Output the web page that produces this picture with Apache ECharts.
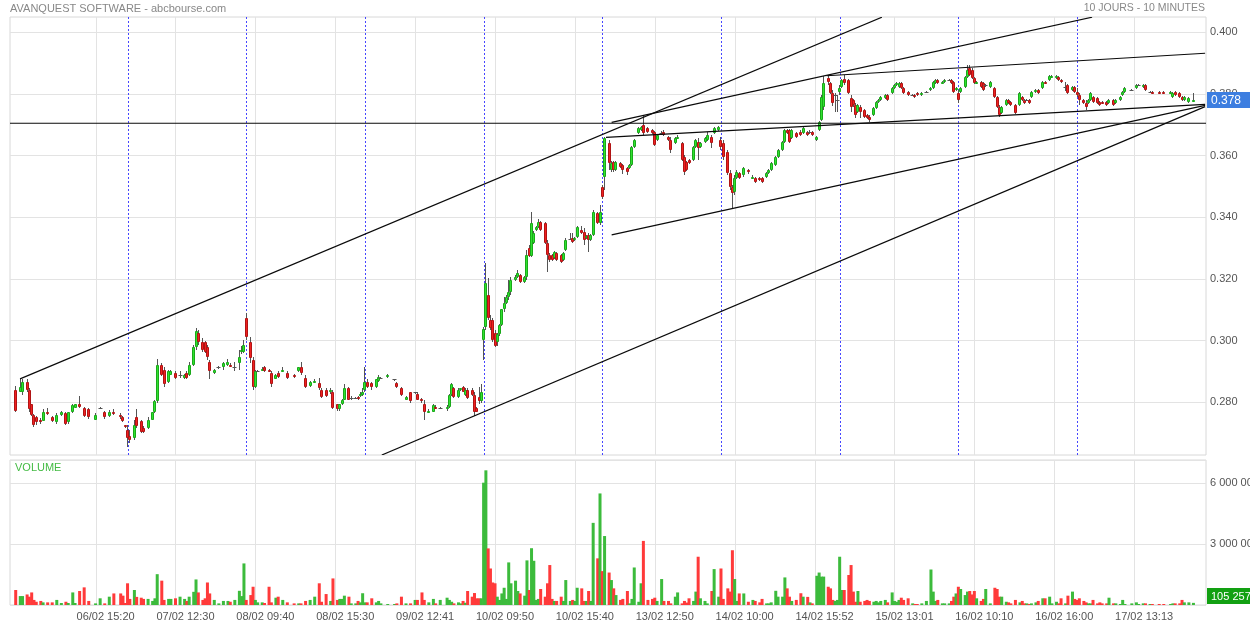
<!DOCTYPE html>
<html><head><meta charset="utf-8">
<script src="https://cdn.jsdelivr.net/npm/echarts@6/dist/echarts.min.js"></script>
<style>html,body{margin:0;padding:0;background:#fff}#c{width:1250px;height:625px}</style>
</head><body><div id="c"></div>
<script>
// ---------- DATA ----------
const days = ['06/02','07/02','08/02','09/02','10/02','13/02','14/02','15/02','16/02','17/02'];
// each candle: [slot (10-min bar from 09:00), open, close, low, high, volume]
const d0602 = [
[3,.2841,.2773,.2767,.2854,740000],[5,.2832,.2851,.2832,.2874,440000],[6,.2835,.2867,.2825,.2877,440000],
[8,.2867,.2841,.2835,.2874,520000],[9,.2841,.2777,.2770,.2848,410000],[10,.2793,.2760,.2757,.2796,620000],
[11,.2760,.2728,.2721,.2763,250000],[12,.2751,.2735,.2728,.2754,160000],[14,.2744,.2735,.2731,.2748,200000],
[15,.2738,.2770,.2738,.2777,130000],[17,.2770,.2764,.2760,.2780,130000],[19,.2751,.2738,.2735,.2754,130000],
[21,.2735,.2760,.2731,.2764,250000],[23,.2760,.2770,.2757,.2773,100000],[25,.2764,.2731,.2728,.2767,160000],
[26,.2735,.2767,.2731,.2770,100000],[28,.2767,.2790,.2764,.2796,620000],[29,.2783,.2793,.2780,.2796,100000],
[31,.2793,.2786,.2783,.2819,690000],[33,.2783,.2754,.2751,.2786,870000],[35,.2777,.2751,.2747,.2780,200000],
[38,.2744,.2760,.2741,.2764,80000],[40,.2783,.2783,.2780,.2786,330000],[42,.2770,.2751,.2747,.2773,80000],
[44,.2754,.2770,.2751,.2776,410000],[46,.2770,.2764,.2760,.2777,570000],[49,.2760,.2751,.2747,.2764,570000],
[50,.2751,.2738,.2735,.2754,460000],[51,.2725,.2722,.2718,.2728,100000]];
const d0702 = [
[0,.2711,.2685,.2656,.2727,1070000],[1,.2692,.2679,.2669,.2711,300000],[3,.2685,.2728,.2679,.2744,740000],
[4,.2751,.2722,.2718,.2777,400000],[6,.2738,.2705,.2702,.2744,360000],[7,.2718,.2705,.2699,.2722,300000],
[9,.2718,.2744,.2712,.2751,300000],[11,.2744,.2767,.2741,.2770,200000],[12,.2767,.2803,.2764,.2806,330000],
[13,.2803,.2922,.2799,.2942,1520000],[15,.2922,.2890,.2884,.2929,1200000],[16,.2906,.2858,.2851,.2913,250000],
[18,.2867,.2900,.2861,.2906,300000],[19,.2890,.2900,.2887,.2906,300000],[21,.2896,.2880,.2874,.2903,330000],
[23,.2890,.2890,.2880,.2900,410000],[25,.2880,.2890,.2877,.2893,300000],[26,.2896,.2880,.2874,.2900,200000],
[27,.2890,.2922,.2884,.2932,410000],[29,.2922,.2978,.2919,.2987,650000],[30,.2978,.3030,.2971,.3042,1260000],
[31,.3026,.2997,.2987,.3036,620000],[33,.2997,.2971,.2964,.3010,250000],[34,.2994,.2964,.2961,.3000,330000],
[35,.2978,.2948,.2938,.2987,1110000],[36,.2932,.2900,.2874,.2938,570000],[38,.2896,.2906,.2893,.2909,250000],
[40,.2913,.2916,.2909,.2919,80000],[42,.2913,.2929,.2906,.2932,200000],[44,.2922,.2932,.2919,.2942,200000],
[45,.2922,.2916,.2913,.2926,160000],[47,.2916,.2916,.2900,.2932,250000],[49,.2929,.2948,.2906,.2971,700000],
[50,.2964,.2971,.2958,.2981,440000],[51,.2964,.2987,.2961,.3003,2050000]];
const d0802 = [
[0,.3074,.3013,.3003,.3091,250000],[2,.2997,.2945,.2929,.3013,490000],[3,.2938,.2851,.2841,.2948,900000],
[4,.2851,.2900,.2848,.2906,250000],[5,.2900,.2903,.2897,.2906,130000],[7,.2906,.2909,.2903,.2913,130000],
[8,.2913,.2900,.2897,.2919,100000],[10,.2906,.2900,.2897,.2909,900000],[11,.2896,.2858,.2851,.2903,130000],
[13,.2877,.2890,.2874,.2893,360000],[14,.2896,.2883,.2880,.2900,410000],[16,.2900,.2906,.2897,.2913,250000],
[18,.2896,.2880,.2877,.2900,130000],[21,.2890,.2883,.2880,.2893,80000],[23,.2900,.2913,.2897,.2916,80000],
[24,.2913,.2896,.2890,.2932,80000],[26,.2880,.2851,.2848,.2890,200000],[28,.2854,.2867,.2851,.2870,250000],
[30,.2867,.2870,.2864,.2874,410000],[32,.2864,.2848,.2841,.2880,1070000],[33,.2841,.2818,.2815,.2848,160000],
[35,.2841,.2822,.2818,.2848,540000],[37,.2832,.2841,.2828,.2845,200000],[38,.2832,.2783,.2777,.2841,1310000],
[40,.2793,.2777,.2773,.2796,250000],[41,.2777,.2793,.2773,.2796,300000],[42,.2793,.2809,.2790,.2812,300000],
[43,.2809,.2848,.2806,.2858,460000],[45,.2848,.2809,.2806,.2851,410000],[46,.2815,.2815,.2809,.2822,80000],
[48,.2815,.2815,.2812,.2818,80000],[49,.2818,.2812,.2809,.2822,200000],[50,.2822,.2828,.2818,.2832,130000],
[51,.2825,.2835,.2822,.2848,580000]];
const d0902 = [
[0,.2841,.2867,.2835,.2916,130000],[1,.2867,.2851,.2848,.2874,130000],[3,.2864,.2851,.2841,.2867,330000],
[5,.2851,.2874,.2848,.2877,130000],[6,.2870,.2883,.2867,.2890,200000],[7,.2880,.2880,.2874,.2883,80000],
[10,.2883,.2890,.2880,.2893,50000],[13,.2874,.2874,.2870,.2877,50000],[14,.2864,.2851,.2848,.2867,80000],
[16,.2848,.2825,.2822,.2851,410000],[18,.2809,.2818,.2806,.2822,80000],[20,.2832,.2803,.2799,.2835,80000],
[22,.2832,.2832,.2828,.2835,250000],[23,.2828,.2809,.2806,.2832,250000],[25,.2812,.2803,.2799,.2815,620000],
[26,.2793,.2770,.2744,.2809,250000],[28,.2767,.2773,.2764,.2777,130000],[30,.2770,.2790,.2767,.2793,300000],
[31,.2786,.2780,.2777,.2790,80000],[33,.2783,.2783,.2780,.2786,250000],[36,.2777,.2786,.2773,.2790,360000],
[37,.2786,.2825,.2783,.2828,250000],[38,.2825,.2858,.2822,.2861,160000],[39,.2848,.2818,.2815,.2851,80000],
[41,.2818,.2841,.2815,.2845,130000],[42,.2841,.2845,.2838,.2848,80000],[43,.2851,.2835,.2832,.2854,200000],
[44,.2825,.2841,.2822,.2845,110000],[45,.2841,.2815,.2812,.2845,690000],[47,.2841,.2825,.2822,.2845,410000],
[48,.2825,.2770,.2754,.2832,590000],[49,.2783,.2770,.2767,.2786,330000],[50,.2818,.2803,.2793,.2851,330000],
[51,.2803,.2835,.2799,.2858,330000]];
const d1002 = [
[0,.3003,.3038,.2938,.3045,6030000],[1,.3045,.3188,.3035,.3252,6640000],[2,.3148,.3074,.3068,.3204,2790000],
[3,.3068,.3042,.3035,.3084,1800000],[4,.3068,.3003,.2997,.3074,1110000],[5,.3026,.2981,.2978,.3036,1070000],
[6,.2994,.3020,.2981,.3026,410000],[7,.3020,.3052,.3016,.3055,250000],[8,.3052,.3101,.3049,.3104,570000],
[9,.3101,.3123,.3094,.3143,850000],[10,.3123,.3143,.3120,.3149,300000],[11,.3140,.3159,.3133,.3198,2100000],
[12,.3159,.3198,.3149,.3207,1070000],[14,.3198,.3207,.3194,.3214,1200000],[15,.3207,.3220,.3204,.3230,690000],
[16,.3214,.3191,.3188,.3217,570000],[18,.3191,.3207,.3188,.3210,460000],[19,.3207,.3279,.3197,.3295,2200000],
[20,.3301,.3275,.3272,.3311,740000],[21,.3275,.3382,.3272,.3418,2800000],[22,.3317,.3349,.3314,.3356,2180000],
[23,.3359,.3369,.3356,.3372,250000],[24,.3369,.3385,.3366,.3395,300000],[25,.3385,.3359,.3356,.3388,790000],
[27,.3382,.3317,.3314,.3385,410000],[28,.3317,.3279,.3223,.3327,1070000],[29,.3279,.3262,.3256,.3285,1970000],
[30,.3279,.3262,.3259,.3282,300000],[31,.3269,.3288,.3265,.3291,200000],[32,.3285,.3262,.3259,.3288,200000],
[34,.3279,.3256,.3253,.3282,410000],[35,.3262,.3285,.3259,.3288,200000],[36,.3295,.3327,.3291,.3333,1230000],
[38,.3330,.3330,.3327,.3349,200000],[39,.3333,.3321,.3317,.3349,250000],[40,.3327,.3333,.3324,.3337,200000],
[41,.3337,.3369,.3333,.3372,850000],[43,.3359,.3349,.3346,.3372,820000],[44,.3353,.3327,.3311,.3366,200000],
[45,.3333,.3340,.3330,.3343,200000],[46,.3343,.3327,.3288,.3349,690000],[47,.3327,.3343,.3324,.3346,200000],
[48,.3343,.3418,.3340,.3424,4050000],[50,.3415,.3382,.3379,.3418,2300000],[51,.3382,.3418,.3375,.3440,5500000]];
const d1302 = [
[0,.3499,.3466,.3460,.3505,1670000],[1,.3531,.3657,.3489,.3660,3400000],[3,.3641,.3576,.3553,.3651,1600000],
[4,.3553,.3576,.3547,.3583,1230000],[5,.3579,.3553,.3547,.3583,820000],[6,.3553,.3579,.3550,.3583,490000],
[8,.3576,.3563,.3560,.3579,250000],[9,.3570,.3553,.3540,.3573,300000],[11,.3560,.3547,.3537,.3563,690000],
[12,.3560,.3570,.3557,.3573,80000],[13,.3570,.3628,.3566,.3631,300000],[14,.3628,.3651,.3625,.3654,1850000],
[16,.3673,.3690,.3670,.3693,160000],[17,.3683,.3693,.3680,.3696,1070000],[18,.3699,.3673,.3667,.3732,3160000],
[20,.3690,.3677,.3673,.3693,250000],[22,.3683,.3673,.3670,.3686,300000],[23,.3677,.3635,.3631,.3680,360000],
[24,.3651,.3667,.3648,.3670,200000],[26,.3673,.3673,.3667,.3680,1280000],[27,.3677,.3667,.3664,.3683,200000],
[29,.3660,.3651,.3648,.3664,200000],[30,.3651,.3618,.3609,.3660,80000],[32,.3641,.3657,.3638,.3660,410000],
[33,.3657,.3660,.3654,.3667,620000],[35,.3641,.3586,.3583,.3644,80000],[36,.3596,.3547,.3537,.3602,200000],
[37,.3579,.3553,.3550,.3583,120000],[38,.3586,.3576,.3573,.3589,330000],[40,.3586,.3628,.3583,.3631,200000],
[41,.3628,.3651,.3625,.3654,660000],[42,.3644,.3625,.3586,.3657,2380000],[43,.3628,.3641,.3625,.3644,330000],
[45,.3644,.3657,.3641,.3660,200000],[46,.3651,.3667,.3648,.3677,80000],[48,.3660,.3641,.3625,.3667,690000],
[49,.3673,.3690,.3670,.3693,1770000],[51,.3683,.3693,.3680,.3696,410000]];
const d1402 = [
[0,.3651,.3628,.3618,.3660,1800000],[1,.3641,.3596,.3586,.3651,300000],[3,.3612,.3544,.3537,.3618,820000],
[4,.3544,.3499,.3489,.3553,660000],[5,.3499,.3479,.3430,.3505,2700000],[6,.3482,.3528,.3472,.3537,1280000],
[7,.3528,.3547,.3524,.3553,200000],[8,.3544,.3528,.3524,.3547,570000],[10,.3537,.3560,.3531,.3563,570000],
[12,.3553,.3547,.3540,.3557,160000],[14,.3528,.3531,.3524,.3537,250000],[15,.3528,.3515,.3511,.3531,200000],
[17,.3528,.3521,.3518,.3531,130000],[18,.3528,.3515,.3511,.3531,300000],[20,.3531,.3544,.3528,.3547,80000],
[21,.3544,.3553,.3540,.3557,80000],[22,.3553,.3576,.3550,.3579,130000],[24,.3570,.3596,.3566,.3599,700000],
[25,.3596,.3618,.3592,.3622,410000],[27,.3618,.3644,.3615,.3647,410000],[28,.3644,.3683,.3641,.3686,1360000],
[29,.3683,.3673,.3670,.3686,820000],[30,.3683,.3644,.3641,.3686,410000],[31,.3657,.3683,.3654,.3686,200000],
[33,.3673,.3660,.3657,.3677,250000],[35,.3677,.3667,.3664,.3683,580000],[36,.3673,.3690,.3670,.3693,410000],
[38,.3677,.3667,.3664,.3680,400000],[39,.3677,.3677,.3670,.3683,130000],[40,.3677,.3667,.3664,.3680,80000],
[42,.3651,.3660,.3648,.3664,1440000],[43,.3683,.3709,.3680,.3712,1600000],[44,.3716,.3790,.3712,.3796,1400000],
[45,.3758,.3836,.3748,.3858,1400000],[47,.3852,.3839,.3829,.3861,900000],[48,.3836,.3803,.3799,.3839,820000],
[49,.3803,.3771,.3761,.3813,250000],[50,.3796,.3796,.3741,.3803,200000],[51,.3780,.3780,.3741,.3796,250000]];
const d1502 = [
[0,.3806,.3819,.3796,.3829,2380000],[1,.3822,.3845,.3819,.3848,740000],[2,.3848,.3836,.3829,.3861,740000],
[4,.3845,.3803,.3799,.3848,1480000],[5,.3787,.3758,.3741,.3796,1970000],[6,.3780,.3764,.3758,.3783,660000],
[7,.3764,.3732,.3722,.3771,160000],[8,.3741,.3764,.3738,.3767,690000],[9,.3758,.3741,.3722,.3764,160000],
[11,.3748,.3725,.3722,.3751,200000],[12,.3732,.3722,.3719,.3735,250000],[13,.3725,.3716,.3709,.3732,200000],
[15,.3732,.3755,.3729,.3758,160000],[16,.3755,.3774,.3751,.3777,200000],[17,.3774,.3780,.3771,.3783,130000],
[18,.3780,.3790,.3777,.3793,200000],[20,.3787,.3796,.3783,.3800,250000],[21,.3796,.3780,.3777,.3800,130000],
[23,.3803,.3819,.3799,.3822,620000],[24,.3819,.3829,.3816,.3832,200000],[25,.3829,.3836,.3826,.3839,160000],
[26,.3822,.3836,.3819,.3839,250000],[27,.3836,.3819,.3816,.3839,360000],[28,.3819,.3803,.3799,.3822,250000],
[30,.3806,.3796,.3793,.3809,330000],[32,.3796,.3796,.3793,.3800,80000],[33,.3796,.3790,.3787,.3800,50000],
[34,.3803,.3796,.3793,.3806,50000],[36,.3796,.3803,.3793,.3806,80000],[38,.3806,.3806,.3803,.3809,200000],
[40,.3813,.3819,.3809,.3822,1750000],[41,.3819,.3839,.3816,.3842,660000],[42,.3836,.3845,.3832,.3848,200000],
[43,.3845,.3836,.3832,.3848,250000],[45,.3836,.3839,.3832,.3842,80000],[46,.3839,.3845,.3836,.3848,80000],
[48,.3845,.3845,.3842,.3848,80000],[49,.3845,.3836,.3832,.3848,200000],[50,.3839,.3806,.3803,.3842,410000],
[51,.3813,.3819,.3809,.3822,570000]];
const d1602 = [
[0,.3803,.3780,.3771,.3813,900000],[1,.3806,.3819,.3803,.3822,790000],[3,.3822,.3855,.3819,.3858,490000],
[4,.3855,.3878,.3852,.3894,660000],[5,.3884,.3861,.3858,.3894,690000],[6,.3878,.3852,.3848,.3884,520000],
[7,.3852,.3836,.3832,.3855,690000],[8,.3836,.3839,.3832,.3842,330000],[10,.3839,.3822,.3819,.3842,200000],
[11,.3836,.3813,.3809,.3839,300000],[12,.3829,.3829,.3822,.3832,790000],[14,.3822,.3839,.3819,.3842,80000],
[16,.3819,.3790,.3787,.3822,850000],[17,.3790,.3758,.3755,.3793,790000],[18,.3758,.3732,.3725,.3764,410000],
[19,.3738,.3758,.3735,.3761,410000],[21,.3764,.3780,.3761,.3783,160000],[22,.3780,.3771,.3767,.3783,130000],
[23,.3774,.3764,.3761,.3777,80000],[25,.3764,.3738,.3735,.3767,250000],[27,.3764,.3803,.3761,.3806,130000],
[28,.3790,.3780,.3777,.3793,200000],[29,.3780,.3771,.3767,.3783,80000],[30,.3780,.3780,.3777,.3783,80000],
[31,.3780,.3771,.3767,.3783,50000],[32,.3790,.3806,.3787,.3809,80000],[34,.3806,.3813,.3803,.3816,130000],
[35,.3813,.3803,.3799,.3816,200000],[37,.3819,.3839,.3816,.3842,330000],[38,.3839,.3836,.3832,.3842,330000],
[40,.3845,.3858,.3842,.3861,410000],[41,.3855,.3858,.3852,.3861,80000],[43,.3852,.3858,.3848,.3861,160000],
[44,.3855,.3845,.3842,.3858,80000],[45,.3845,.3839,.3836,.3848,330000],[47,.3822,.3822,.3809,.3839,80000],
[48,.3829,.3803,.3799,.3832,460000],[50,.3813,.3822,.3809,.3826,660000],[51,.3822,.3806,.3803,.3826,300000]];
const d1702 = [
[0,.3806,.3796,.3790,.3819,250000],[1,.3796,.3780,.3764,.3803,330000],[3,.3780,.3771,.3767,.3783,200000],
[4,.3771,.3758,.3748,.3780,130000],[5,.3771,.3780,.3767,.3783,80000],[6,.3780,.3803,.3777,.3806,80000],
[7,.3790,.3774,.3771,.3793,250000],[9,.3787,.3771,.3767,.3790,80000],[10,.3774,.3764,.3761,.3777,130000],
[11,.3774,.3771,.3767,.3777,80000],[13,.3774,.3764,.3761,.3777,80000],[14,.3771,.3780,.3767,.3783,360000],
[16,.3780,.3764,.3761,.3783,80000],[17,.3771,.3780,.3767,.3783,80000],[19,.3780,.3790,.3777,.3793,50000],
[20,.3796,.3806,.3793,.3809,250000],[21,.3806,.3819,.3803,.3822,50000],[24,.3813,.3813,.3809,.3816,80000],
[26,.3819,.3829,.3816,.3832,130000],[27,.3829,.3829,.3826,.3832,50000],[29,.3822,.3829,.3819,.3832,80000],
[30,.3829,.3813,.3809,.3832,80000],[32,.3806,.3806,.3803,.3809,50000],[33,.3806,.3803,.3799,.3809,50000],
[36,.3806,.3803,.3799,.3809,50000],[38,.3806,.3803,.3799,.3809,50000],[41,.3803,.3806,.3799,.3809,50000],
[42,.3790,.3803,.3787,.3806,80000],[43,.3806,.3796,.3793,.3809,80000],[45,.3803,.3790,.3787,.3806,80000],
[46,.3790,.3780,.3777,.3793,250000],[47,.3780,.3790,.3777,.3793,130000],[49,.3774,.3787,.3771,.3790,130000],
[51,.3776,.3780,.3774,.3803,105257]];
const dayData = [d0602,d0702,d0802,d0902,d1002,d1302,d1402,d1502,d1602,d1702];

const priceTicks = [0.28, 0.30, 0.32, 0.34, 0.36, 0.38, 0.40];
const xTickLabels = ['06/02 15:20','07/02 12:30','08/02 09:40','08/02 15:30','09/02 12:41','10/02 09:50','10/02 15:40',
  '13/02 12:50','14/02 10:00','14/02 15:52','15/02 13:01','16/02 10:10','16/02 16:00','17/02 13:13'];
// drawn trend lines: [bar index 1, price 1, bar index 2, price 2]
const trendLines = [
  [3.9, 0.2876, 381.5, 0.4049],
  [263.1, 0.3708, 473.6, 0.4049],
  [357.3, 0.3859, 523.1, 0.3932],
  [260.6, 0.3659, 523.1, 0.3766],
  [-0.5, 0.3705, 523.5, 0.3705],
  [263.1, 0.3343, 523.1, 0.3763],
  [162.4, 0.2629, 523.1, 0.3759]
];

// ---------- BUILD ----------
const SLOTS = 52, EXTRA = 5;
const PMIN = 0.26291, PMAX = 0.40496, VMAX = 7149000;
const slotTime = s => { const m = 540 + s * 10; return String(Math.floor(m/60)).padStart(2,'0') + ':' + String(m%60).padStart(2,'0'); };
const catIndex = (d, s) => d === 0 ? s - 1 : 51 + (d - 1) * SLOTS + s;
const categories = [];
days.forEach((day, d) => { for (let s = (d === 0 ? 1 : 0); s < SLOTS; s++) categories.push(day + ' ' + slotTime(s)); });
for (let i = 0; i < EXTRA; i++) categories.push('');
const N = categories.length;

const UP = '#2fe22f', UPB = '#1aa81a', DN = '#f02020', DNB = '#b01414';
const VUP = '#3cbb3c', VDN = '#ff3a3a';
const candles = [];
const volumes = new Array(N).fill('-');
dayData.forEach((arr, d) => arr.forEach(e => {
  const i = catIndex(d, e[0]);
  candles.push([i, e[1], e[2], e[3], e[4]]);
  volumes[i] = { value: e[5], itemStyle: { color: e[2] >= e[1] ? VUP : VDN } };
}));
const lastBar = d1702[d1702.length - 1];
const lastIdx = catIndex(9, lastBar[0]);
const lastClose = lastBar[2], lastVolume = lastBar[5];

const dayStarts = days.slice(1).map((_, k) => catIndex(k + 1, 0));
const tickIdx = xTickLabels.map(lbl => {
  const [dd, hm] = lbl.split(' ');
  const d = days.indexOf(dd);
  const [h, m] = hm.split(':').map(Number);
  return catIndex(d, Math.round((h * 60 + m - 540) / 10));
});
const tickMap = {}; tickIdx.forEach((i, k) => tickMap[i] = xTickLabels[k]);

const fmtVol = v => String(v).replace(/\B(?=(\d{3})+(?!\d))/g, ' ');
const FONT = 'Liberation Sans, Arial, sans-serif';

function renderCandle(params, api) {
  const i = api.value(0), o = api.value(1), c = api.value(2), l = api.value(3), h = api.value(4);
  const pO = api.coord([i, o]), pC = api.coord([i, c]), pL = api.coord([i, l]), pH = api.coord([i, h]);
  const x0 = Math.round(pO[0] - 1.5);
  const children = [{
    type: 'line', shape: { x1: x0 + 1.5, y1: Math.round(pH[1]), x2: x0 + 1.5, y2: Math.round(pL[1]) },
    style: { stroke: '#555', lineWidth: 1 }
  }];
  const yT = Math.round(Math.min(pO[1], pC[1])), yB = Math.round(Math.max(pO[1], pC[1]));
  if (yB - yT < 1) {
    children.push({ type: 'line', shape: { x1: x0 - 0.5, y1: yT + 0.5, x2: x0 + 3.5, y2: yT + 0.5 }, style: { stroke: '#555', lineWidth: 1 } });
  } else {
    const up = c > o;
    children.push({ type: 'rect', shape: { x: x0 + 0.5, y: yT + 0.5, width: 2, height: Math.max(1, yB - yT - 1) },
      style: { fill: up ? UP : DN, stroke: up ? UPB : DNB, lineWidth: 1 } });
  }
  return { type: 'group', children };
}
function vLineRenderer(color, dash) {
  return function (params, api) {
    const cs = params.coordSys;
    const p = api.coord([api.value(0), api.value(1)]);
    const x = Math.round(p[0]) + 0.5;
    return { type: 'line', shape: { x1: x, y1: cs.y, x2: x, y2: cs.y + cs.height },
      style: { stroke: color, lineWidth: 1, lineDash: dash || null } };
  };
}
function renderTrend(params, api) {
  const a = api.coord([api.value(0), api.value(1)]);
  const b = api.coord([api.value(2), api.value(3)]);
  return { type: 'polyline', shape: { points: [a, b] }, style: { stroke: '#0a0a0a', lineWidth: 1.15, fill: null } };
}
function badgeRenderer(bg, text, fontSize, dy) {
  return function (params, api) {
    const cs = params.coordSys;
    const p = api.coord([api.value(0), api.value(1)]);
    const x = cs.x + cs.width + 1;
    const yc = Math.round(p[1]) + dy;
    return { type: 'group', children: [
      { type: 'rect', shape: { x: x, y: yc - 8, width: 60, height: 16 }, style: { fill: bg } },
      { type: 'text', x: x + 4, y: yc + 0.5, style: { text: text, fill: '#fff', font: fontSize + 'px ' + FONT, textVerticalAlign: 'middle', textAlign: 'left' } }
    ] };
  };
}

const chart = echarts.init(document.getElementById('c'), null, { renderer: 'canvas' });
const gridLineStyle = { color: '#e3e3e3', width: 1, type: 'solid' };
const titleStyle = (c, s) => ({ fontSize: s, color: c, fontWeight: 'normal', fontFamily: FONT });
chart.setOption({
  animation: false,
  backgroundColor: '#fff',
  textStyle: { fontFamily: FONT },
  title: [
    { text: 'AVANQUEST SOFTWARE - abcbourse.com', left: 10, top: 3, padding: 0, textStyle: titleStyle('#888', 11) },
    { text: '10 JOURS - 10 MINUTES', right: 45, top: 3, padding: 0, textStyle: titleStyle('#888', 10.5) },
    { text: 'VOLUME', left: 15, top: 462, padding: 0, textStyle: titleStyle('#44bb44', 11) }
  ],
  grid: [
    { left: 10, top: 17, width: 1196, height: 438, show: true, borderColor: '#d8d8d8', borderWidth: 1, backgroundColor: 'transparent', containLabel: false, outerBoundsMode: 'none' },
    { left: 10, top: 460, width: 1196, height: 145, show: true, borderColor: '#d8d8d8', borderWidth: 1, backgroundColor: 'transparent', containLabel: false, outerBoundsMode: 'none' }
  ],
  xAxis: [
    { type: 'category', gridIndex: 0, data: categories, boundaryGap: true, axisLine: { show: false }, axisTick: { show: false }, axisLabel: { show: false }, splitLine: { show: false } },
    { type: 'category', gridIndex: 1, data: categories, boundaryGap: true, axisLine: { show: false }, axisTick: { show: false }, splitLine: { show: false },
      axisLabel: { show: true, interval: (i) => tickMap[i] !== undefined, formatter: (v, i) => tickMap[i] || '', color: '#555', fontSize: 11, margin: 6, padding: [0, 0, 0, 20], fontFamily: FONT } },
    { type: 'value', gridIndex: 0, min: -0.5, max: N - 0.5, show: false }
  ],
  yAxis: [
    { type: 'value', gridIndex: 0, min: PMIN, max: PMAX, show: false, scale: true },
    { type: 'value', gridIndex: 1, min: 0, max: VMAX, interval: 3000000, position: 'right',
      axisLine: { show: false }, axisTick: { show: false },
      axisLabel: { color: '#555', fontSize: 11, margin: 4, showMinLabel: false, showMaxLabel: false, formatter: fmtVol, fontFamily: FONT, padding: [0, 0, 3, 0] },
      splitLine: { show: true, lineStyle: gridLineStyle } }
  ],
  series: [
    { type: 'line', xAxisIndex: 0, yAxisIndex: 0, data: [], z: 1, silent: true,
      markLine: { z: 1, silent: true, symbol: ['none', 'none'], animation: false, lineStyle: gridLineStyle,
        label: { show: true, position: 'end', distance: 4, color: '#555', fontSize: 11, fontFamily: FONT, padding: [0, 0, 5, 0], formatter: p => Number(p.value).toFixed(3) },
        data: priceTicks.map(v => ({ yAxis: v })) } },
    { type: 'custom', xAxisIndex: 0, yAxisIndex: 0, z: 1, silent: true, clip: false,
      renderItem: vLineRenderer('#e3e3e3'), data: tickIdx.map(i => [i, PMIN]) },
    { type: 'custom', xAxisIndex: 1, yAxisIndex: 1, z: 1, silent: true, clip: false,
      renderItem: vLineRenderer('#e3e3e3'), data: tickIdx.map(i => [i, 0]) },
    { type: 'custom', xAxisIndex: 0, yAxisIndex: 0, z: 2, silent: true, clip: false,
      renderItem: vLineRenderer('#4646ff', [2, 2]), data: dayStarts.map(i => [i, PMIN]) },
    { type: 'custom', name: 'price', xAxisIndex: 0, yAxisIndex: 0, z: 3, clip: true,
      renderItem: renderCandle, encode: { x: 0, y: [1, 2, 3, 4] }, data: candles, silent: true },
    { type: 'custom', xAxisIndex: 2, yAxisIndex: 0, z: 4, clip: true, silent: true,
      renderItem: renderTrend, encode: { x: [0, 2], y: [1, 3] }, data: trendLines },
    { type: 'bar', xAxisIndex: 1, yAxisIndex: 1, data: volumes, barWidth: 3, z: 3, silent: true },
    { type: 'custom', xAxisIndex: 0, yAxisIndex: 0, z: 8, clip: false, silent: true,
      renderItem: badgeRenderer('#3d7ee0', lastClose.toFixed(3), 12, 0), data: [[lastIdx, lastClose]] },
    { type: 'custom', xAxisIndex: 1, yAxisIndex: 1, z: 8, clip: false, silent: true,
      renderItem: badgeRenderer('#12a012', fmtVol(lastVolume), 11, -7), data: [[lastIdx, lastVolume]] }
  ]
});
</script>
</body></html>
